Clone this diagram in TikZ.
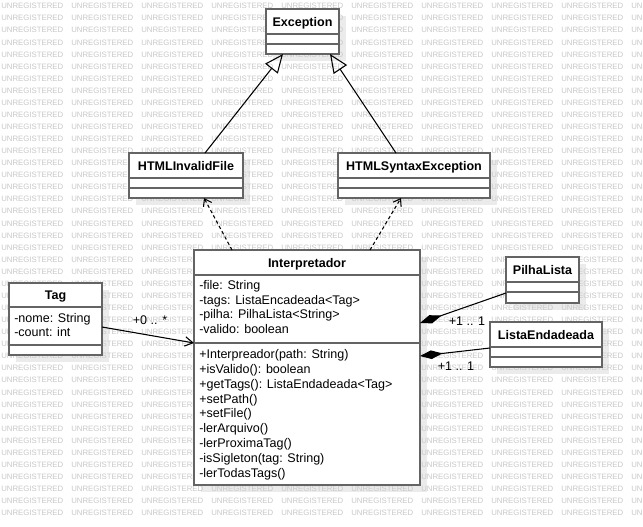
\documentclass[tikz,border=0pt]{standalone}
\usepackage{fontspec}
\setmainfont{Liberation Sans}
\usetikzlibrary{calc,arrows.meta}
\newcommand\pxu{0.75pt}
\definecolor{wm}{RGB}{200,200,200}
\definecolor{shd}{RGB}{235,235,235}
\definecolor{bord}{RGB}{100,100,100}
\begin{document}
\begin{tikzpicture}[x=0.75pt,y=-0.75pt,
  cbox/.style={draw=bord, line width=1.5pt, fill=white, inner sep=0pt, outer sep=0pt, anchor=north west},
  sepline/.style={draw=bord, line width=1.5pt},
  ttl/.style={font=\fontsize{9.4}{11}\selectfont\bfseries, inner sep=0pt, anchor=base},
  txt/.style={font=\fontsize{9.4}{11}\selectfont, inner sep=0pt, anchor=base west},
  lab/.style={font=\fontsize{9.4}{11}\selectfont, inner sep=0pt, anchor=base},
  wmk/.style={font=\fontsize{5.85}{6}\selectfont, text=wm, inner sep=0pt, anchor=base west},
  conn/.style={draw=black, line width=0.8pt},
  gen/.style={conn, -{Triangle[open, length=14pt, width=12pt]}},
  dep/.style={conn, dash pattern=on 2.5pt off 2pt, -{Straight Barb[length=5pt, width=7pt]}},
  assoc/.style={conn, -{Straight Barb[length=6pt, width=7pt]}},
  comp/.style={conn, {Diamond[length=17pt, width=6.5pt]}-}
]
\fill[white] (0,0) rectangle (643,526);
\useasboundingbox (0,0) rectangle (643,526);

% shadows
\foreach \x/\y/\w/\h in {266/9/73/45, 129/153/114/45, 338/153/152/45, 194/250/226/235, 9/283/93/72, 506/257/73/46, 490/322/112/45}
  \fill[shd] (\x+7,\y+7) rectangle ++(\w,\h);

% watermark (words fully hidden under a class box are left out)
\foreach \i in {0,...,9}
  \foreach \j in {0,...,42}{
    \pgfmathsetmacro\xa{1+70*\i}
    \pgfmathsetmacro\xb{\xa+62}
    \pgfmathsetmacro\yc{6+12.07*\j}
    \pgfmathtruncatemacro\hid{
      ((\xa>=194)&&(\xb<=420)&&(\yc>=253)&&(\yc<=482)) ||
      ((\xa>=338)&&(\xb<=490)&&(\yc>=156)&&(\yc<=195)) ||
      ((\xa>=129)&&(\xb<=243)&&(\yc>=156)&&(\yc<=195)) ||
      ((\xa>=490)&&(\xb<=602)&&(\yc>=325)&&(\yc<=364))}
    \ifnum\hid=0
      \node[wmk] (wm-\i-\j) at ({1+70*\i},{8.8+12.07*\j}) {UNREGISTERED};
    \fi
  }

% classes
\node[cbox, minimum width=73*\pxu, minimum height=45*\pxu] (exc) at (266,9) {};
\node[cbox, minimum width=114*\pxu, minimum height=45*\pxu] (hif) at (129,153) {};
\node[cbox, minimum width=152*\pxu, minimum height=45*\pxu] (hse) at (338,153) {};
\node[cbox, minimum width=226*\pxu, minimum height=235*\pxu] (int) at (194,250) {};
\node[cbox, minimum width=93*\pxu, minimum height=72*\pxu] (tag) at (9,283) {};
\node[cbox, minimum width=73*\pxu, minimum height=46*\pxu] (pil) at (506,257) {};
\node[cbox, minimum width=112*\pxu, minimum height=45*\pxu] (lis) at (490,322) {};

% compartment lines
\foreach \n in {exc,hif,hse,pil,lis}{
  \draw[sepline] ($(\n.north west)+(0,25)$) -- ($(\n.north east)+(0,25)$);
  \draw[sepline] ($(\n.north west)+(0,35)$) -- ($(\n.north east)+(0,35)$);
}
\draw[sepline] ($(int.north west)+(0,25)$) -- ($(int.north east)+(0,25)$);
\draw[sepline] ($(int.north west)+(0,93)$) -- ($(int.north east)+(0,93)$);
\draw[sepline] ($(tag.north west)+(0,24)$) -- ($(tag.north east)+(0,24)$);
\draw[sepline] ($(tag.north west)+(0,62)$) -- ($(tag.north east)+(0,62)$);

% titles
\node[ttl] (exc-t) at ($(exc.north)+(0,17)$) {Exception};
\node[ttl] (hif-t) at ($(hif.north)+(0,17)$) {HTMLInvalidFile};
\node[ttl] (hse-t) at ($(hse.north)+(0,17)$) {HTMLSyntaxException};
\node[ttl] (int-t) at ($(int.north)+(0,17)$) {Interpretador};
\node[ttl] (tag-t) at ($(tag.north)+(0,16.5)$) {Tag};
\node[ttl] (pil-t) at ($(pil.north)+(0,17.5)$) {PilhaLista};
\node[ttl] (lis-t) at ($(lis.north)+(0,17)$) {ListaEndadeada};

% attributes / operations
\foreach [count=\k from 0] \t in {{-file: String},{-tags: ListaEncadeada<Tag>},{-pilha: PilhaLista<String>},{-valido: boolean}}
  \node[txt] (int-a\k) at ($(int.north west)+(5,39.5+14.6*\k)$) {\t};
\foreach [count=\k from 0] \t in {{+Interpreador(path: String)},{+isValido(): boolean},{+getTags(): ListaEndadeada<Tag>},{+setPath()},{+setFile()},{-lerArquivo()},{-lerProximaTag()},{-isSigleton(tag: String)},{-lerTodasTags()}}
  \node[txt] (int-m\k) at ($(int.north west)+(5,108.5+14.85*\k)$) {\t};
\node[txt] (tag-a0) at ($(tag.north west)+(5,39.5)$) {-nome: String};
\node[txt] (tag-a1) at ($(tag.north west)+(5,53.5)$) {-count: int};

% connectors
\draw[gen] ($(hif.north west)+(76,0)$) -- ($(exc.south west)+(17,0)$);
\draw[gen] ($(hse.north west)+(58,0)$) -- ($(exc.south west)+(64,0)$);
\draw[dep] ($(int.north west)+(38,0)$) -- ($(hif.south west)+(75,0)$);
\draw[dep] ($(int.north west)+(176,0)$) -- ($(hse.south west)+(63,0)$);
\draw[assoc] ($(tag.north east)+(0,44)$) -- ($(int.north west)+(0,93)$);
\draw[comp] ($(int.north east)+(0,73)$) -- ($(pil.north west)+(0,36)$);
\draw[comp] ($(int.north east)+(0,106)$) -- ($(lis.north west)+(0,26)$);

% multiplicities
\node[lab] (m1) at (150,324.5) {+0 .. *};
\node[lab] (m2) at (467,325.5) {+1 .. 1};
\node[lab] (m3) at (456,370.5) {+1 .. 1};
\end{tikzpicture}
\end{document}
